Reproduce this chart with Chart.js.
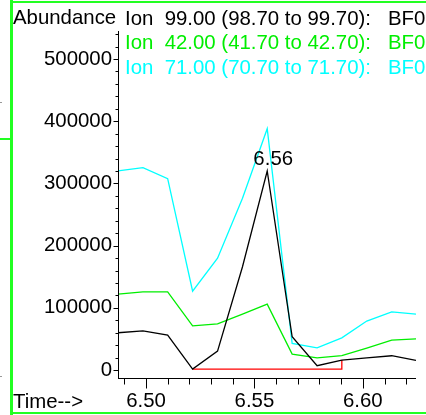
<!DOCTYPE html>
<html><head><meta charset="utf-8">
<script src="https://cdn.jsdelivr.net/npm/chart.js@4"></script>
<style>html,body{margin:0;padding:0;background:#fff;overflow:hidden}canvas{display:block}</style>
</head><body>
<canvas id="c" width="426" height="415"></canvas>
<script>
// ---- data ----
const times  = [6.4871, 6.4986, 6.5100, 6.5215, 6.5330, 6.5445, 6.5559, 6.5674, 6.5789, 6.5903, 6.6018, 6.6133, 6.6245];
const ion99  = [59900, 63100, 56200, 1600, 30500, 166000, 320000, 53500, 6900, 16100, 19700, 23000, 15600];
const ion42  = [122000, 125700, 125700, 71100, 74300, 89900, 105900, 25700, 19700, 23000, 35300, 48200, 50200];
const ion71  = [320000, 325400, 307700, 126800, 179800, 276100, 388000, 42900, 35800, 51800, 78700, 93600, 89900];
const seriesLabels = ['Ion  99.00 (98.70 to 99.70):   BF0', 'Ion  42.00 (41.70 to 42.70):   BF0', 'Ion  71.00 (70.70 to 71.70):   BF0'];
const yTickLabels = ['0', '100000', '200000', '300000', '400000', '500000'];
const xTickLabels = ['6.50', '6.55', '6.60'];
const yAxisTitle = 'Abundance';
const xAxisTitle = 'Time-->';
const baselineFrom = 3, baselineTo = 9;   // integration baseline (sample indices)
const xMin = 6.4871, xMax = 6.6245, yMin = -12800, yMax = 545000;

const FONT = "'Liberation Sans', Arial, Helvetica, sans-serif";
const FS = 20.4;
Chart.defaults.font.family = FONT;
const colors = ['#000000', '#00ee00', '#00ffff'];
const pts = arr => arr.map((v, i) => ({x: times[i], y: v}));
const findLabel = (list, v) => { const s = list.find(l => Math.abs(parseFloat(l) - v) < 1e-6); return s === undefined ? '' : s; };

const decor = {
  id: 'decor',
  beforeDraw(chart) {
    const ctx = chart.ctx;
    ctx.save();
    ctx.fillStyle = '#ffffff';
    ctx.fillRect(0, 0, chart.width, chart.height);
    ctx.fillStyle = '#22ff22';
    ctx.fillRect(10, 0, 3, 415);
    ctx.fillRect(12, 1, 414, 2);
    ctx.fillRect(12, 412, 414, 2);
    ctx.fillRect(0, 138, 11, 2);
    ctx.fillStyle = '#999';
    ctx.fillRect(0, 102, 2, 1);
    ctx.fillRect(0, 376, 2, 1);
    ctx.restore();
  },
  afterDraw(chart) {
    const ctx = chart.ctx, xs = chart.scales.x, ys = chart.scales.y;
    ctx.save();
    ctx.strokeStyle = '#000';
    ctx.lineWidth = 1;
    ctx.beginPath();
    const ax = Math.round(ys.right) + 0.5, ay = Math.round(xs.top) + 0.5;
    // axis lines
    ctx.moveTo(ax, Math.round(ys.top)); ctx.lineTo(ax, ay);
    ctx.moveTo(ax - 0.5, ay); ctx.lineTo(Math.round(xs.right), ay);
    // tick marks
    for (let v = 0; v <= yMax; v += 20000) {
      const py = Math.round(ys.getPixelForValue(v)) + 0.5;
      const len = v % 100000 === 0 ? 5 : 3;
      ctx.moveTo(ax - len, py); ctx.lineTo(ax, py);
    }
    for (let k = Math.ceil(xMin * 100); k <= Math.floor(xMax * 100); k++) {
      const px = Math.round(xs.getPixelForValue(k / 100)) + 0.5;
      const len = k % 5 === 0 ? 10 : 6;
      ctx.moveTo(px, ay); ctx.lineTo(px, ay + len);
    }
    ctx.stroke();

    ctx.font = FS + 'px ' + FONT;
    ctx.textBaseline = 'alphabetic';
    ctx.textAlign = 'left';
    ctx.fillStyle = '#000';
    ctx.fillText(yAxisTitle, 13, 23.5);
    ctx.fillText(xAxisTitle, 13, 408);
    chart.data.datasets.slice(0, 3).forEach((d, i) => {
      ctx.fillStyle = colors[i];
      ctx.fillText(d.label, 125, 25 + i * 24.4);
    });
    // apex label
    let im = 0; ion99.forEach((v, i) => { if (v > ion99[im]) im = i; });
    const px = xs.getPixelForValue(times[im]), py = ys.getPixelForValue(ion99[im]);
    ctx.fillStyle = '#000';
    ctx.textAlign = 'center';
    ctx.fillText(times[im].toFixed(2), px + 6, py - 6);
    ctx.restore();
  }
};

new Chart(document.getElementById('c'), {
  type: 'line',
  data: {
    datasets: [
      {label: seriesLabels[0], data: pts(ion99), borderColor: colors[0]},
      {label: seriesLabels[1], data: pts(ion42), borderColor: colors[1]},
      {label: seriesLabels[2], data: pts(ion71), borderColor: colors[2]},
      {label: 'baseline', borderColor: '#ff0000', data: [
        {x: times[baselineFrom], y: ion99[baselineFrom]},
        {x: times[baselineTo], y: ion99[baselineFrom]},
        {x: times[baselineTo], y: ion99[baselineTo]}]}
    ]
  },
  options: {
    responsive: false, animation: false, devicePixelRatio: 1,
    layout: {padding: {left: 0, top: 31, right: 10, bottom: 0}},
    plugins: {legend: {display: false}, tooltip: {enabled: false}},
    elements: {point: {radius: 0}, line: {tension: 0, borderWidth: 1.3, fill: false}},
    scales: {
      x: {
        type: 'linear', min: xMin, max: xMax,
        grid: {display: false, drawTicks: false},
        border: {display: false},
        ticks: {autoSkip: false, maxRotation: 0, padding: 11, color: '#000', font: {size: FS},
                callback: v => findLabel(xTickLabels, v)},
        afterBuildTicks(s) { s.ticks = xTickLabels.map(l => ({value: parseFloat(l)})); },
        afterFit(s) { s.height = 37; }
      },
      y: {
        type: 'linear', min: yMin, max: yMax,
        grid: {display: false, drawTicks: false},
        border: {display: false},
        ticks: {autoSkip: false, padding: 6, color: '#000', font: {size: FS},
                callback: v => findLabel(yTickLabels, v)},
        afterBuildTicks(s) { s.ticks = yTickLabels.map(l => ({value: parseFloat(l)})); },
        afterFit(s) { s.width = 118; }
      }
    }
  },
  plugins: [decor]
});
</script>
</body></html>
